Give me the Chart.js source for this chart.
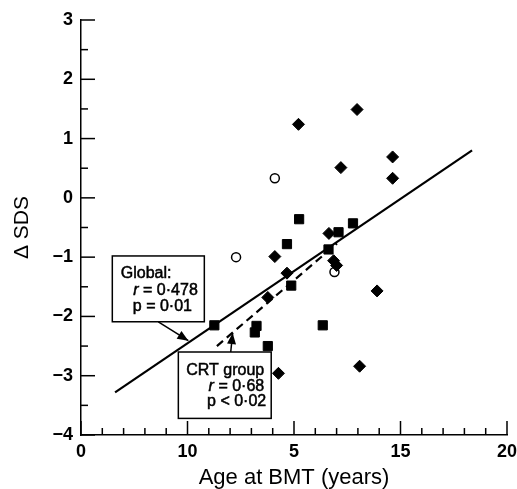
<!DOCTYPE html>
<html><head><meta charset="utf-8">
<script src="https://cdn.jsdelivr.net/npm/chart.js@4/dist/chart.umd.min.js"></script>
<style>html,body{margin:0;padding:0;background:#fff;} #wrap{width:517px;height:489px;}</style>
</head><body><div id="wrap"><canvas id="c" width="517" height="489"></canvas></div>
<script>
// ---- data ----
const diamondAge = [10.21, 12.96, 14.63, 14.63, 12.20, 11.64, 9.10, 9.67, 11.86, 12.00, 8.77, 13.90, 9.27, 13.08];
const diamondSDS = [1.24, 1.49, 0.69, 0.33, 0.51, -0.60, -0.99, -1.27, -1.06, -1.14, -1.68, -1.57, -2.96, -2.84];
const squareAge = [6.26, 10.24, 9.67, 12.09, 12.77, 11.62, 9.87, 8.24, 8.16, 8.77, 11.35];
const squareSDS = [-2.15, -0.36, -0.78, -0.58, -0.43, -0.87, -1.48, -2.16, -2.27, -2.50, -2.15];
const circleAge = [9.10, 7.28, 11.90];
const circleSDS = [0.33, -1.00, -1.25];
const globalLineAge = [1.60, 18.36];
const globalLineSDS = [-3.28, 0.80];
const crtLineAge = [6.38, 12.02];
const crtLineSDS = [-2.50, -0.77];
const xTickValues = [0, 5, 10, 15, 20];
const xTickLabels = ['0', '10', '5', '15', '20'];
const yTickValues = [-4, -3, -2, -1, 0, 1, 2, 3];
const yTickLabels = ['\u22124', '\u22123', '\u22122', '\u22121', '0', '1', '2', '3'];

// annotation boxes (data-space anchors) and text
const globalBox = {x0: 1.47, y0: -0.98, x1: 5.79, y1: -2.09};
const globalArrow = {fromX: 3.63, fromY: -2.09, toX: 5.04, toY: -2.41};
const crtBox = {x0: 4.57, y0: -2.60, x1: 8.93, y1: -3.72};
const crtArrow = {fromX: 7.03, fromY: -2.60, toX: 7.12, toY: -2.28};

const FONT = "'Liberation Sans', Arial, sans-serif";

function pts(xs, ys) { return xs.map((v, i) => ({x: v, y: ys[i]})); }

const innerTicks = {
  id: 'innerTicks',
  afterDraw(chart) {
    const {ctx, scales: {x, y}, chartArea: a} = chart;
    ctx.save();
    ctx.strokeStyle = '#000';
    ctx.lineWidth = 1.5;
    for (let v = x.min; v <= x.max + 1e-9; v += 1) {
      const px = x.getPixelForValue(v);
      const L = (Math.round(v) % 5 === 0) ? 14 : 7;
      ctx.beginPath(); ctx.moveTo(px, a.bottom); ctx.lineTo(px, a.bottom - L); ctx.stroke();
    }
    for (let v = y.min; v <= y.max + 1e-9; v += 0.5) {
      const py = y.getPixelForValue(v);
      const L = Number.isInteger(v) ? 14 : 7;
      ctx.beginPath(); ctx.moveTo(a.left, py); ctx.lineTo(a.left + L, py); ctx.stroke();
    }
    ctx.restore();
  }
};

function arrow(ctx, x0, y0, x1, y1) {
  ctx.beginPath(); ctx.moveTo(x0, y0); ctx.lineTo(x1, y1); ctx.stroke();
  const ang = Math.atan2(y1 - y0, x1 - x0);
  const len = 11, w = 4.5;
  ctx.beginPath();
  ctx.moveTo(x1, y1);
  ctx.lineTo(x1 - len * Math.cos(ang) + w * Math.sin(ang), y1 - len * Math.sin(ang) - w * Math.cos(ang));
  ctx.lineTo(x1 - len * Math.cos(ang) - w * Math.sin(ang), y1 - len * Math.sin(ang) + w * Math.cos(ang));
  ctx.closePath(); ctx.fill();
}

function drawSegs(ctx, segs, x, y, align) {
  let widths = segs.map(s => { ctx.font = (s[1] ? 'italic ' : '') + '16px ' + FONT; return ctx.measureText(s[0]).width; });
  let total = widths.reduce((a, b) => a + b, 0);
  let cx = align === 'right' ? x - total : x;
  ctx.textAlign = 'left'; ctx.textBaseline = 'alphabetic';
  ctx.lineWidth = 0.5; ctx.strokeStyle = '#000';
  segs.forEach((s, i) => {
    ctx.font = (s[1] ? 'italic ' : '') + '16px ' + FONT;
    ctx.fillText(s[0], cx, y); ctx.strokeText(s[0], cx, y);
    cx += widths[i];
  });
}

const annotations = {
  id: 'annotations',
  afterDatasetsDraw(chart) {
    const {ctx, scales: {x, y}} = chart;
    ctx.save();
    ctx.strokeStyle = '#000'; ctx.fillStyle = '#000'; ctx.lineWidth = 1.5;
    arrow(ctx, x.getPixelForValue(globalArrow.fromX), y.getPixelForValue(globalArrow.fromY),
               x.getPixelForValue(globalArrow.toX), y.getPixelForValue(globalArrow.toY));
    arrow(ctx, x.getPixelForValue(crtArrow.fromX), y.getPixelForValue(crtArrow.fromY),
               x.getPixelForValue(crtArrow.toX), y.getPixelForValue(crtArrow.toY));
    [globalBox, crtBox].forEach(b => {
      const l = x.getPixelForValue(b.x0), r = x.getPixelForValue(b.x1);
      const t = y.getPixelForValue(b.y0), bt = y.getPixelForValue(b.y1);
      ctx.fillStyle = '#fff'; ctx.fillRect(l, t, r - l, bt - t);
      ctx.lineWidth = 1.5; ctx.strokeRect(l, t, r - l, bt - t);
    });
    ctx.fillStyle = '#000';
    let l = x.getPixelForValue(globalBox.x0), t = y.getPixelForValue(globalBox.y0);
    drawSegs(ctx, [['Global:', false]], l + 8.5, t + 22, 'left');
    drawSegs(ctx, [['r', true], [' = 0\u00b7478', false]], l + 21, t + 39, 'left');
    drawSegs(ctx, [['p = 0\u00b701', false]], l + 20.5, t + 55.5, 'left');
    let r = x.getPixelForValue(crtBox.x1); t = y.getPixelForValue(crtBox.y0);
    drawSegs(ctx, [['CRT group', false]], r - 7, t + 22.7, 'right');
    drawSegs(ctx, [['r', true], [' = 0\u00b768', false]], r - 7, t + 38.7, 'right');
    drawSegs(ctx, [['p < 0\u00b702', false]], r - 5, t + 54, 'right');
    ctx.restore();
  }
};

new Chart(document.getElementById('c'), {
  type: 'scatter',
  data: {
    datasets: [
      {data: pts(globalLineAge, globalLineSDS), showLine: true, borderColor: '#000', borderWidth: 2.2, pointRadius: 0, order: 5},
      {data: pts(crtLineAge, crtLineSDS), showLine: true, borderColor: '#000', borderWidth: 2.2, borderDash: [8, 5], pointRadius: 0, order: 4},
      {data: pts(diamondAge, diamondSDS), pointStyle: 'rectRot', pointRadius: 6, backgroundColor: '#000', borderColor: '#000', borderWidth: 1, order: 1},
      {data: pts(squareAge, squareSDS), pointStyle: 'rect', pointRadius: 6.5, backgroundColor: '#000', borderColor: '#000', borderWidth: 1, order: 2},
      {data: pts(circleAge, circleSDS), pointStyle: 'circle', pointRadius: 4.5, backgroundColor: '#fff', borderColor: '#000', borderWidth: 1.5, order: 3}
    ]
  },
  options: {
    responsive: false,
    animation: false,
    events: [],
    layout: {padding: {left: 0, top: 20, right: 10, bottom: 0}},
    plugins: {legend: {display: false}, tooltip: {enabled: false}},
    scales: {
      x: {
        type: 'linear', min: 0, max: 20,
        grid: {display: false, drawTicks: false},
        border: {display: true, color: '#000', width: 1.5},
        ticks: {stepSize: 5, autoSkip: false, maxRotation: 0, padding: 6, color: '#000',
          font: {family: FONT, size: 18, weight: 'bold'},
          callback: v => { const i = xTickValues.indexOf(v); return i >= 0 ? xTickLabels[i] : ''; }},
        title: {display: true, text: 'Age at BMT (years)', color: '#000', font: {family: FONT, size: 22, lineHeight: 1}, padding: {top: 0, bottom: 0}},
        afterFit: s => { s.height = 54; s.paddingLeft = 0; s.paddingRight = 0; }
      },
      y: {
        type: 'linear', min: -4, max: 3,
        grid: {display: false, drawTicks: false},
        border: {display: true, color: '#000', width: 1.5},
        ticks: {stepSize: 1, padding: 8, color: '#000',
          font: {family: FONT, size: 18, weight: 'bold'},
          callback: v => { const i = yTickValues.indexOf(v); return i >= 0 ? yTickLabels[i] : ''; }},
        title: {display: true, text: '\u0394 SDS', color: '#000', font: {family: FONT, size: 21}, padding: {top: 10, bottom: 0}},
        afterFit: s => { s.width = 81; s.paddingTop = 0; s.paddingBottom = 0; }
      }
    }
  },
  plugins: [innerTicks, annotations]
});
</script>
</body></html>
